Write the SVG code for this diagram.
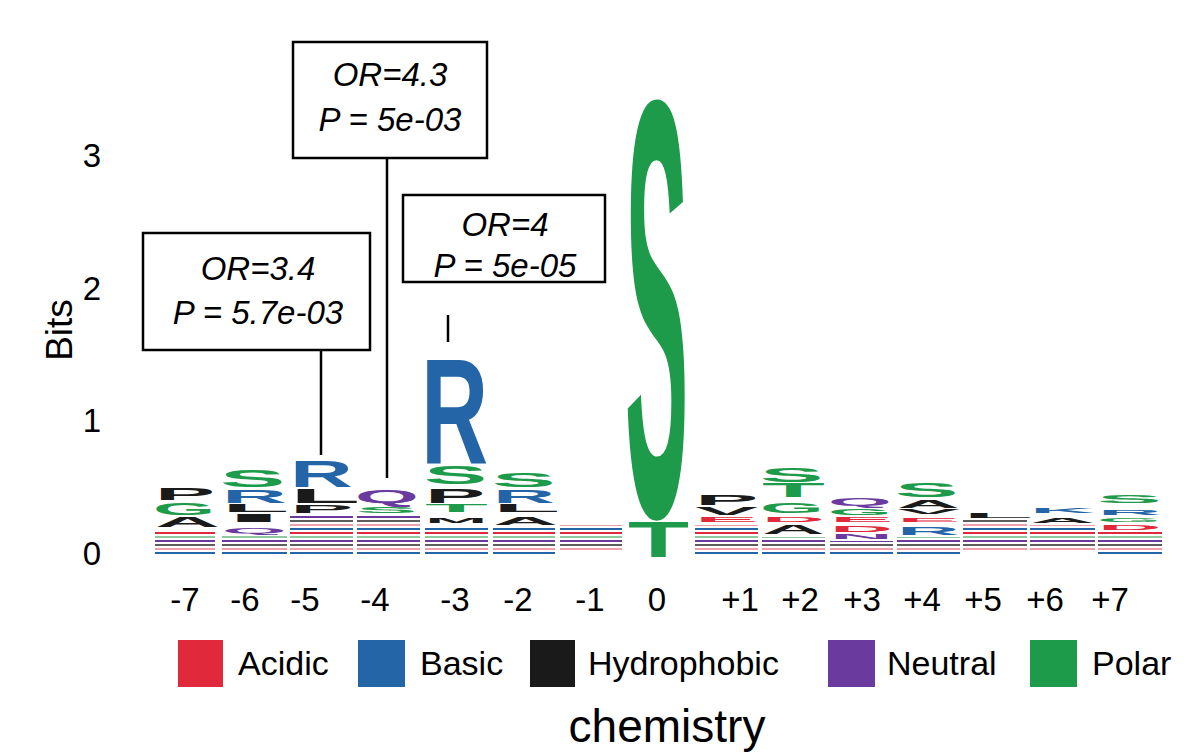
<svg xmlns="http://www.w3.org/2000/svg" width="1196" height="753" viewBox="0 0 1196 753">
<defs>
<style>
.t{font-family:"Liberation Sans",Arial,sans-serif;fill:#000}
.ax{font-size:33px;text-anchor:middle}
.an{font-size:33px;font-style:italic;text-anchor:middle}
.lg{font-size:34px}
.L{font-family:"Liberation Sans",Arial,sans-serif;font-weight:bold;font-size:100px}
.r{fill:#e0293a}.b{fill:#2465a8}.k{fill:#1a1a1a}.p{fill:#6a3a9f}.g{fill:#1d9a4a}
.box{fill:#fff;stroke:#000;stroke-width:2.5}
.ln{stroke:#000;stroke-width:2.5}
</style>
<pattern id="st" width="70" height="24" patternUnits="userSpaceOnUse">
<rect y="0" width="70" height="2" fill="#2465a8"/>
<rect y="4" width="70" height="2" fill="#e0293a"/>
<rect y="8" width="70" height="2" fill="#8fc9a0"/>
<rect y="12" width="70" height="2" fill="#6a3a9f"/>
<rect y="16" width="70" height="2" fill="#1a1a1a" opacity="0.7"/>
<rect y="20" width="70" height="2" fill="#f0a0a8"/>
</pattern>
</defs>
<rect width="1196" height="753" fill="#fff"/>
<g id="axis">
<text class="t" font-size="37" transform="translate(62 330) rotate(-90)" text-anchor="middle" dominant-baseline="middle">Bits</text>
<text class="t ax" x="92" y="565">0</text>
<text class="t ax" x="92" y="432">1</text>
<text class="t ax" x="92" y="300">2</text>
<text class="t ax" x="92" y="167">3</text>
<text class="t ax" x="185" y="611">-7</text>
<text class="t ax" x="245" y="611">-6</text>
<text class="t ax" x="305" y="611">-5</text>
<text class="t ax" x="375" y="611">-4</text>
<text class="t ax" x="455" y="611">-3</text>
<text class="t ax" x="518" y="611">-2</text>
<text class="t ax" x="590" y="611">-1</text>
<text class="t ax" x="657" y="611">0</text>
<text class="t ax" x="740" y="611">+1</text>
<text class="t ax" x="800" y="611">+2</text>
<text class="t ax" x="862" y="611">+3</text>
<text class="t ax" x="922" y="611">+4</text>
<text class="t ax" x="983" y="611">+5</text>
<text class="t ax" x="1045" y="611">+6</text>
<text class="t ax" x="1110" y="611">+7</text>
</g>
<g id="stripes">
<rect x="155" y="530" width="60" height="25" fill="url(#st)"/>
<rect x="222" y="536" width="65" height="19" fill="url(#st)"/>
<rect x="290" y="516" width="63" height="39" fill="url(#st)"/>
<rect x="357" y="516" width="63" height="39" fill="url(#st)"/>
<rect x="425" y="526" width="63" height="29" fill="url(#st)"/>
<rect x="493" y="528" width="62" height="27" fill="url(#st)"/>
<rect x="560" y="525" width="62" height="25" fill="url(#st)"/>
<rect x="695" y="525" width="63" height="30" fill="url(#st)"/>
<rect x="762" y="537" width="63" height="18" fill="url(#st)"/>
<rect x="830" y="541" width="63" height="14" fill="url(#st)"/>
<rect x="897" y="537" width="63" height="18" fill="url(#st)"/>
<rect x="963" y="520" width="64" height="30" fill="url(#st)"/>
<rect x="1030" y="525" width="65" height="25" fill="url(#st)"/>
<rect x="1098" y="532" width="64" height="23" fill="url(#st)"/>
</g>
<g id="letters">
<text class="L k" transform="translate(155 500) scale(0.9 0.167)">P</text>
<text class="L g" transform="translate(153 515) scale(0.8 0.167)">G</text>
<text class="L k" transform="translate(155 527) scale(0.9 0.14)">A</text>
<text class="L g" transform="translate(220 487) scale(0.98 0.24)">S</text>
<text class="L b" transform="translate(222 503) scale(0.9 0.18)">R</text>
<text class="L k" transform="translate(222 512) scale(1.1 0.1)">L</text>
<text class="L k" transform="translate(222 522) scale(2.3 0.1)">I</text>
<text class="L p" transform="translate(222 533) scale(0.83 0.08)">Q</text>
<text class="L b" transform="translate(290 487) scale(0.87 0.375)">R</text>
<text class="L k" transform="translate(290 503) scale(1.15 0.21)">L</text>
<text class="L k" transform="translate(290 513) scale(0.95 0.11)">P</text>
<text class="L p" transform="translate(355 503) scale(0.82 0.18)">Q</text>
<text class="L g" transform="translate(356 513) scale(0.92 0.1)">S</text>
<text class="L b" transform="translate(421 463) scale(0.93 1.5)">R</text>
<text class="L g" transform="translate(424 484) scale(0.95 0.25)">S</text>
<text class="L k" transform="translate(425 503) scale(0.9 0.21)">P</text>
<text class="L g" transform="translate(425 512) scale(1.03 0.1)">T</text>
<text class="L k" transform="translate(425 523) scale(0.75 0.08)">M</text>
<text class="L g" transform="translate(492 487) scale(0.95 0.21)">S</text>
<text class="L b" transform="translate(493 503) scale(0.86 0.18)">R</text>
<text class="L k" transform="translate(493 512) scale(1.1 0.1)">L</text>
<text class="L k" transform="translate(493 525) scale(0.9 0.11)">A</text>
<text class="L g" transform="translate(625 515) scale(0.95 5.95)">S</text>
<text class="L g" transform="translate(628 557) scale(1.0 0.5)">T</text>
<text class="L k" transform="translate(695 505) scale(0.95 0.14)">P</text>
<text class="L k" transform="translate(695 515) scale(0.95 0.11)">V</text>
<text class="L r" transform="translate(695 522) scale(0.95 0.07)">E</text>
<text class="L g" transform="translate(760 482) scale(0.95 0.2)">S</text>
<text class="L g" transform="translate(762 497) scale(1.03 0.2)">T</text>
<text class="L g" transform="translate(760 513) scale(0.82 0.14)">G</text>
<text class="L r" transform="translate(762 522) scale(0.87 0.08)">D</text>
<text class="L k" transform="translate(762 534) scale(0.87 0.125)">A</text>
<text class="L p" transform="translate(828 506) scale(0.82 0.11)">Q</text>
<text class="L g" transform="translate(828 515) scale(0.82 0.1)">G</text>
<text class="L r" transform="translate(830 522) scale(0.95 0.07)">E</text>
<text class="L r" transform="translate(830 532) scale(0.87 0.1)">D</text>
<text class="L p" transform="translate(830 539) scale(0.87 0.07)">N</text>
<text class="L g" transform="translate(895 497) scale(0.95 0.2)">S</text>
<text class="L k" transform="translate(897 508) scale(0.87 0.11)">A</text>
<text class="L k" transform="translate(897 514) scale(0.95 0.07)">V</text>
<text class="L r" transform="translate(897 522) scale(0.95 0.06)">E</text>
<text class="L b" transform="translate(897 535) scale(0.87 0.11)">R</text>
<text class="L k" transform="translate(963 518) scale(1.15 0.07)">L</text>
<text class="L b" transform="translate(1030 513) scale(0.9 0.08)">K</text>
<text class="L k" transform="translate(1030 523) scale(0.9 0.08)">A</text>
<text class="L g" transform="translate(1097 503) scale(0.97 0.1)">S</text>
<text class="L b" transform="translate(1098 515) scale(0.88 0.08)">R</text>
<text class="L g" transform="translate(1097 522) scale(0.83 0.06)">G</text>
<text class="L r" transform="translate(1098 530) scale(0.88 0.07)">D</text>
</g>
<g id="connectors">
<line class="ln" x1="321" y1="350" x2="321" y2="455"/>
<line class="ln" x1="387" y1="158" x2="387" y2="478"/>
<line class="ln" x1="448" y1="315" x2="448" y2="342"/>
</g>
<g id="ann1">
<rect class="box" x="143" y="233" width="227" height="117"/>
<text class="t an" x="258" y="280">OR=3.4</text>
<text class="t an" x="258" y="324">P = 5.7e-03</text>
</g>
<g id="ann2">
<rect class="box" x="293" y="42" width="194" height="116"/>
<text class="t an" x="390" y="86">OR=4.3</text>
<text class="t an" x="390" y="131">P = 5e-03</text>
</g>
<g id="ann3">
<rect class="box" x="403" y="195" width="202" height="87"/>
<text class="t an" x="505" y="236">OR=4</text>
<text class="t an" x="505" y="277">P = 5e-05</text>
</g>
<g id="legend">
<rect class="r" x="178" y="640" width="45" height="47"/>
<text class="t lg" x="238" y="675">Acidic</text>
<rect class="b" x="358" y="640" width="47" height="47"/>
<text class="t lg" x="420" y="675">Basic</text>
<rect class="k" x="530" y="640" width="45" height="47"/>
<text class="t lg" x="588" y="675">Hydrophobic</text>
<rect class="p" x="828" y="640" width="47" height="47"/>
<text class="t lg" x="887" y="675">Neutral</text>
<rect class="g" x="1030" y="640" width="47" height="47"/>
<text class="t lg" x="1092" y="675">Polar</text>
<text class="t" x="667" y="742" font-size="46" text-anchor="middle">chemistry</text>
</g>
</svg>
